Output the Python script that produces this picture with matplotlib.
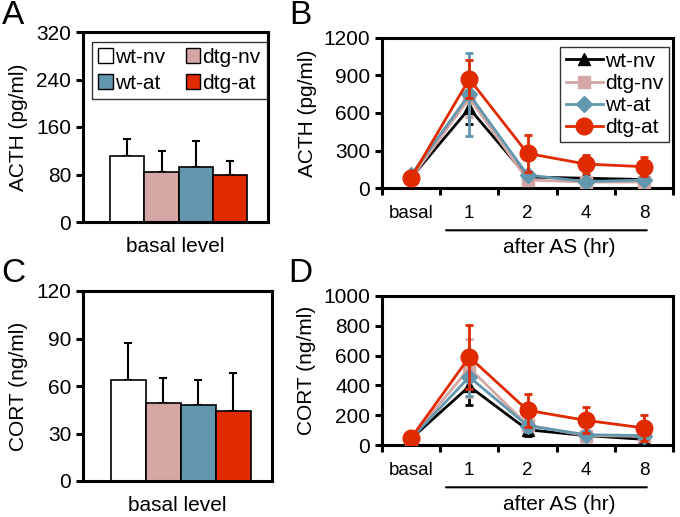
import matplotlib
matplotlib.use("Agg")
import matplotlib.pyplot as plt
from matplotlib.lines import Line2D
from matplotlib.patches import Patch
import numpy as np

plt.rcParams['font.family'] = ['Liberation Sans', 'DejaVu Sans']

groups = ["wt-nv", "dtg-nv", "wt-at", "dtg-at"]
colors = ["#FFFFFF", "#D4A6A4", "#6397AE", "#E02A00"]
line_colors = ["#000000", "#D4A6A4", "#6397AE", "#E02A00"]
markers = ["^", "s", "D", "o"]
msizes = [9, 8, 8, 12]

# Panel A: basal ACTH (pg/ml)
acth_basal = [112, 85, 92, 80]
acth_basal_err = [28, 35, 45, 23]
# Panel C: basal CORT (ng/ml)
cort_basal = [64, 49, 48, 44]
cort_basal_err = [23, 16, 16, 24]

time_labels = ["basal", "1", "2", "4", "8"]
# Panel B: ACTH time course
acth_tc = {
    "wt-nv": [84, 636, 90, 80, 70],
    "dtg-nv": [80, 720, 66, 50, 50],
    "wt-at": [106, 748, 106, 53, 66],
    "dtg-at": [84, 870, 278, 193, 172],
}
acth_tc_err = {
    "wt-nv": [20, 124, 30, 20, 20],
    "dtg-nv": [20, 150, 30, 20, 20],
    "wt-at": [25, 330, 30, 20, 20],
    "dtg-at": [20, 150, 146, 72, 75],
}
# Panel D: CORT time course
cort_tc = {
    "wt-nv": [45, 394, 104, 65, 40],
    "dtg-nv": [45, 517, 135, 65, 60],
    "wt-at": [45, 457, 131, 71, 65],
    "dtg-at": [49, 590, 234, 167, 116],
}
cort_tc_err = {
    "wt-nv": [15, 125, 40, 20, 20],
    "dtg-nv": [15, 193, 40, 20, 20],
    "wt-at": [15, 130, 40, 20, 20],
    "dtg-at": [15, 212, 109, 87, 89],
}

W, H = 680, 517
fig = plt.figure(figsize=(W / 100, H / 100), dpi=100)

def px_axes(l, t, r, b):
    return fig.add_axes([l / W, 1 - b / H, (r - l) / W, (b - t) / H])

FS = 15
SPW = 2.2

def style(ax):
    for s in ax.spines.values():
        s.set_linewidth(SPW)
    ax.tick_params(direction='out', width=SPW, length=5, labelsize=FS)

def bar_panel(ax, vals, errs, ymax, step, ylabel):
    x = np.arange(len(vals))
    ax.bar(x, vals, width=1.0, color=colors, edgecolor='black', linewidth=1.2, zorder=2)
    ax.errorbar(x, vals, yerr=[np.zeros(len(errs)), errs], fmt='none',
                ecolor='black', elinewidth=1.5, capsize=3, capthick=1.5, zorder=1)
    ax.set_xlim(-1.29, 4.1)
    ax.set_ylim(0, ymax)
    ax.set_yticks(np.arange(0, ymax + 1, step))
    ax.set_xticks([])
    ax.set_xlabel("basal level", fontsize=FS, labelpad=11)
    ax.set_ylabel(ylabel, fontsize=FS, labelpad=6)
    style(ax)

def line_panel(ax, data, errs, ymax, step, ylabel, legend, hpx):
    x = np.arange(len(time_labels))
    for i, g in enumerate(groups):
        ax.errorbar(x, data[g], yerr=errs[g], color=line_colors[i], ecolor=line_colors[i],
                    marker=markers[i], markersize=msizes[i], linewidth=2,
                    elinewidth=2, capsize=3, capthick=2, label=g, zorder=2 + i,
                    markeredgecolor=line_colors[i])
    ax.set_xlim(-0.5, 4.45)
    ax.set_ylim(0, ymax)
    ax.set_yticks(np.arange(0, ymax + 1, step))
    ax.set_xticks(np.arange(-0.5, 4.6, 1.0))
    ax.set_xticklabels([])
    tr = ax.get_xaxis_transform()
    for xi, lab in zip(x, time_labels):
        ax.text(xi, -25 / hpx, lab, transform=tr, ha='center', va='center', fontsize=13.5)
    ax.annotate('', xy=(0.6, -42 / hpx), xytext=(4.05, -42 / hpx), xycoords=tr,
                arrowprops=dict(arrowstyle='-', lw=1.5, color='black', shrinkA=0, shrinkB=0))
    ax.text(2.55, -59 / hpx, "after AS (hr)", transform=tr,
            ha='center', va='center', fontsize=FS)
    ax.set_ylabel(ylabel, fontsize=FS, labelpad=5)
    style(ax)
    if legend:
        handles = [Line2D([0], [0], color=line_colors[i], marker=markers[i],
                          markersize=msizes[i], linewidth=2) for i in range(4)]
        leg = ax.legend(handles, groups, loc='upper right', bbox_to_anchor=(0.985, 0.94),
                        fontsize=FS, frameon=True, fancybox=False, handlelength=1.8,
                        handletextpad=0.1, borderpad=0.25, labelspacing=0.15, borderaxespad=0)
        leg.get_frame().set_edgecolor('black')
        leg.get_frame().set_linewidth(1.0)

axA = px_axes(83, 32, 268, 222)
bar_panel(axA, acth_basal, acth_basal_err, 320, 80, "ACTH (pg/ml)")
handles = [Patch(facecolor=colors[i], edgecolor='black', linewidth=1) for i in range(4)]
legA = axA.legend([handles[0], handles[2], handles[1], handles[3]],
                  [groups[0], groups[2], groups[1], groups[3]], ncol=2, loc='upper right',
                  bbox_to_anchor=(0.995, 0.95), fontsize=FS, frameon=True, fancybox=False,
                  handlelength=0.7, handleheight=0.7, handletextpad=0.1, columnspacing=1.0,
                  borderpad=0.3, labelspacing=0.35, borderaxespad=0)
legA.get_frame().set_edgecolor('black')
legA.get_frame().set_linewidth(1.0)

axC = px_axes(83, 291, 272, 481)
bar_panel(axC, cort_basal, cort_basal_err, 120, 30, "CORT (ng/ml)")

axB = px_axes(382, 37.5, 673, 188.3)
line_panel(axB, acth_tc, acth_tc_err, 1200, 300, "ACTH (pg/ml)", True, 150.8)

axD = px_axes(382, 295.7, 673, 445.3)
line_panel(axD, cort_tc, cort_tc_err, 1000, 200, "CORT (ng/ml)", False, 149.6)

for lab, x, y in [("A", 13, 16), ("B", 300, 16), ("C", 13, 274), ("D", 300, 274)]:
    fig.text(x / W, 1 - y / H, lab, fontsize=24, ha='center', va='center')

fig.savefig("out.png", dpi=100)
